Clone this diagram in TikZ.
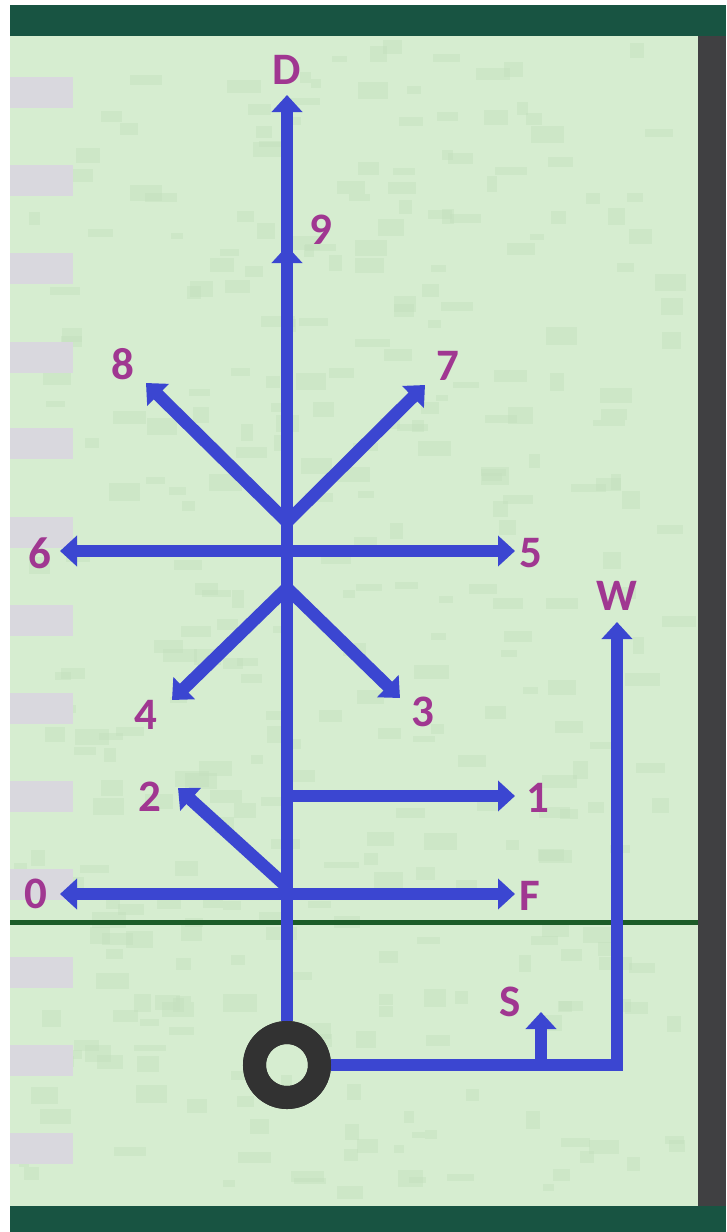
\documentclass[tikz,border=0pt]{standalone}
\usepackage{fontspec}
\setmainfont{Carlito}
\usetikzlibrary{arrows.meta}
\definecolor{bandgreen}{RGB}{24,84,66}
\definecolor{fieldgreen}{RGB}{214,237,208}
\definecolor{patchgreen}{RGB}{196,224,190}
\definecolor{sidegray}{RGB}{64,64,66}
\definecolor{bargray}{RGB}{217,216,222}
\definecolor{wireblue}{RGB}{59,70,209}
\definecolor{labmag}{RGB}{160,55,145}
\definecolor{linegreen}{RGB}{28,92,40}
\definecolor{ringgray}{RGB}{50,50,50}
\begin{document}
\begin{tikzpicture}[x=1pt,y=-1pt,
  wire/.style={draw=wireblue, line width=12.5pt},
  arr/.style={wire, -{Triangle[width=30pt,length=17pt]}},
  darr/.style={wire, {Triangle[width=30pt,length=17pt]}-{Triangle[width=30pt,length=17pt]}},
  lab/.style={text=labmag, font=\bfseries\fontsize{45}{45}\selectfont, inner sep=0pt},
  barbox/.style={fill=bargray, draw=none}]
\useasboundingbox (0,0) rectangle (726,1232);
% background
\fill[white] (0,0) rectangle (726,1232);
\fill[fieldgreen] (10,36) rectangle (698,1206);
\pgfmathsetseed{7}
\foreach \i in {1,...,350}{
  \pgfmathsetmacro{\px}{10+660*rnd}
  \pgfmathsetmacro{\py}{36+1150*rnd}
  \pgfmathsetmacro{\pw}{10+25*rnd}
  \pgfmathsetmacro{\ph}{6+12*rnd}
  \fill[patchgreen, opacity=0.45] (\px,\py) rectangle (\px+\pw,\py+\ph);
}
\foreach \y in {77,165,253,342,428,517,605,693,781,869,957,1045,1133}
  \fill[barbox] (10,\y) rectangle (73,\y+31);
\fill[bandgreen] (10,5) rectangle (726,36);
\fill[bandgreen] (10,1206) rectangle (726,1232);
\fill[sidegray] (698,36) rectangle (726,1206);
\draw[linegreen, line width=5pt] (10,922) -- (698,922);

% points
\coordinate (tipD) at (287,95);
\coordinate (stem9a) at (287,320);
\coordinate (tip9) at (287,246);
\coordinate (hubU) at (287,522);
\coordinate (hubL) at (287,588);
\coordinate (hub1) at (287,796);
\coordinate (hub2) at (287,887);
\coordinate (tip8) at (146,383);
\coordinate (tip7) at (425,385);
\coordinate (tip6) at (60,551);
\coordinate (tip5) at (515,551);
\coordinate (tip4) at (172,700);
\coordinate (tip3) at (400,698);
\coordinate (tip1) at (515,796);
\coordinate (tip2) at (178,788);
\coordinate (tip0) at (60,894);
\coordinate (tipF) at (515,894);
\coordinate (wcorner) at (617,1065);
\coordinate (tipW) at (617,622);
\coordinate (sbase) at (541,1065);
\coordinate (tipS) at (541,1012);

% ring (anchor for the connectors)
\node[circle, draw=ringgray, line width=23pt, minimum size=65pt, inner sep=0pt] (ring) at (287,1065) {};

% connectors
\draw[arr] (ring.north) -- (tipD);
\draw[arr] (stem9a) -- (tip9);
\draw[arr] (hubU) -- (tip8);
\draw[arr] (hubU) -- (tip7);
\draw[darr] (tip6) -- (tip5);
\draw[arr] (hubL) -- (tip4);
\draw[arr] (hubL) -- (tip3);
\draw[arr] (hub1) -- (tip1);
\draw[arr] (hub2) -- (tip2);
\draw[darr] (tip0) -- (tipF);
\draw[arr, line join=miter] (ring.east) -- (wcorner) -- (tipW);
\draw[arr] (sbase) -- (tipS);
\node[circle, draw=ringgray, line width=23pt, minimum size=65pt, inner sep=0pt] (ringtop) at (ring.center) {};

% labels
\node[lab] (lD) at (287,70) {D};
\node[lab] (l9) at (321,230) {9};
\node[lab] (l8) at (123,364) {8};
\node[lab] (l7) at (448,366) {7};
\node[lab] (l6) at (40,553) {6};
\node[lab] (l5) at (531,553) {5};
\node[lab] (l4) at (146,715) {4};
\node[lab] (l3) at (423,712) {3};
\node[lab] (l2) at (150,797) {2};
\node[lab] (l1) at (538,798) {1};
\node[lab] (l0) at (36,894) {0};
\node[lab] (lF) at (530,896) {F};
\node[lab] (lW) at (617,596) {W};
\node[lab] (lS) at (510,1002) {S};
\end{tikzpicture}
\end{document}
